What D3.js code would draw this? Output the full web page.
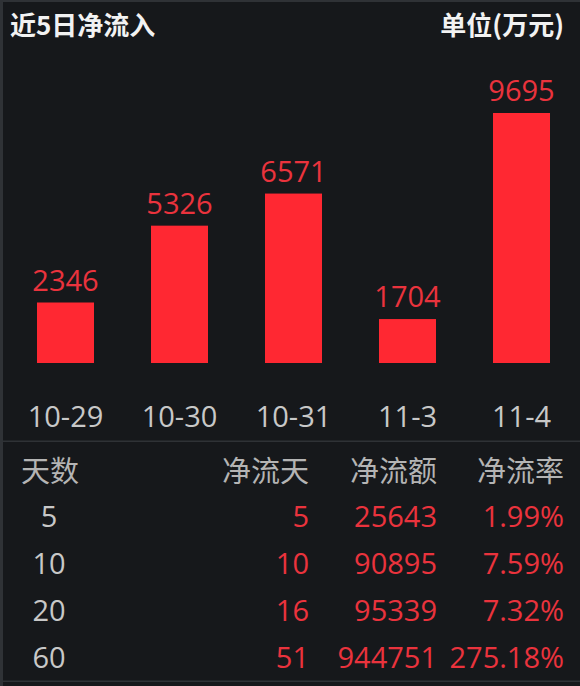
<!DOCTYPE html>
<html>
<head>
<meta charset="utf-8">
<script src="https://cdn.jsdelivr.net/npm/d3@7"></script>
<style>
  html, body { margin: 0; padding: 0; background: #16181b; }
  svg { display: block; }
</style>
</head>
<body>
<div id="chart"></div>
<script>
// bar chart data
const dates = ["10-29", "10-30", "10-31", "11-3", "11-4"];
const inflows = [2346, 5326, 6571, 1704, 9695];

// table data
const tableHeaders = ["天数", "净流天", "净流额", "净流率"];
const days = [5, 10, 20, 60];
const netDays = [5, 10, 16, 51];
const netAmount = [25643, 90895, 95339, 944751];
const netRate = [1.99, 7.59, 7.32, 275.18];

const W = 580, H = 686;
const RED = "#ff2832";
const RED_TEXT = "#ea333d";
const numFont = "'Open Sans', 'Noto Sans CJK SC', sans-serif";
const cjkFont = "'Noto Sans CJK SC', 'Open Sans', sans-serif";

const svg = d3.select("#chart")
  .append("svg")
  .attr("width", W)
  .attr("height", H);

svg.append("rect")
  .attr("width", W).attr("height", H)
  .attr("fill", "#16181b");

// frame lines
svg.append("rect").attr("x", 0).attr("y", 0).attr("width", 3).attr("height", H).attr("fill", "#2f3236");
svg.append("rect").attr("x", 0).attr("y", 0).attr("width", W).attr("height", 2).attr("fill", "#2f3236");
svg.append("rect").attr("x", 0).attr("y", 440.5).attr("width", W).attr("height", 1.5).attr("fill", "#2f3236");
svg.append("rect").attr("x", 0).attr("y", 680.5).attr("width", W).attr("height", 1.5).attr("fill", "#2f3236");

// title
svg.append("text")
  .attr("x", 10)
  .attr("y", 35)
  .style("font-family", cjkFont)
  .style("font-weight", "bold")
  .style("font-size", "26px")
  .attr("fill", "#f2f2f2")
  .text("近5日净流入");

svg.append("text")
  .attr("x", 564)
  .attr("y", 35)
  .attr("text-anchor", "end")
  .style("font-family", cjkFont)
  .style("font-weight", "bold")
  .style("font-size", "26px")
  .attr("fill", "#f2f2f2")
  .text("单位(万元)");

// scales
var x = d3.scaleBand()
  .domain(dates)
  .range([8.5, 578.5])
  .paddingInner(0.5)
  .paddingOuter(0.25);

var y = d3.scaleLinear()
  .domain([0, d3.max(inflows)])
  .range([363, 113]);

var bars = svg.append("g");

bars.selectAll("rect")
  .data(inflows)
  .enter()
  .append("rect")
  .attr("x", function (d, i) { return x(dates[i]); })
  .attr("y", function (d) { return y(d); })
  .attr("width", x.bandwidth())
  .attr("height", function (d) { return y(0) - y(d); })
  .attr("fill", RED);

bars.selectAll("text.val")
  .data(inflows)
  .enter()
  .append("text")
  .attr("class", "val")
  .attr("x", function (d, i) { return x(dates[i]) + x.bandwidth() / 2; })
  .attr("y", function (d) { return y(d) - 12; })
  .attr("text-anchor", "middle")
  .style("font-family", numFont)
  .style("font-size", "29px")
  .attr("fill", RED_TEXT)
  .text(function (d) { return d; });

// x axis, labels only
var xAxis = svg.append("g")
  .attr("transform", "translate(0,363)")
  .call(d3.axisBottom(x).tickSize(0).tickPadding(0));
xAxis.select(".domain").remove();
xAxis.selectAll("text")
  .attr("y", 64)
  .attr("dy", null)
  .style("font-family", numFont)
  .style("font-size", "29px")
  .attr("fill", "#c8c8c8");

// table
var rowY = d3.scalePoint()
  .domain(d3.range(days.length))
  .range([527, 668]);

var colRight = [null, 309, 437, 564];

svg.selectAll("text.head")
  .data(tableHeaders)
  .enter()
  .append("text")
  .attr("class", "head")
  .attr("x", function (d, i) { return i == 0 ? 21 : colRight[i]; })
  .attr("y", 482)
  .attr("text-anchor", function (d, i) { return i == 0 ? "start" : "end"; })
  .style("font-family", cjkFont)
  .style("font-size", "29px")
  .attr("fill", "#b4b4b4")
  .text(function (d) { return d; });

var columns = [
  netDays.map(String),
  netAmount.map(String),
  netRate.map(function (d) { return d.toFixed(2) + "%"; })
];

svg.selectAll("text.days")
  .data(days)
  .enter()
  .append("text")
  .attr("class", "days")
  .attr("x", 49)
  .attr("y", function (d, i) { return rowY(i); })
  .attr("text-anchor", "middle")
  .style("font-family", numFont)
  .style("font-size", "29px")
  .attr("fill", "#c8c8c8")
  .text(function (d) { return d; });

for (var c = 0; c < columns.length; c++) {
  svg.selectAll("text.col" + c)
    .data(columns[c])
    .enter()
    .append("text")
    .attr("class", "col" + c)
    .attr("x", colRight[c + 1])
    .attr("y", function (d, i) { return rowY(i); })
    .attr("text-anchor", "end")
    .style("font-family", numFont)
    .style("font-size", "29px")
    .attr("fill", RED_TEXT)
    .text(function (d) { return d; });
}
</script>
</body>
</html>
